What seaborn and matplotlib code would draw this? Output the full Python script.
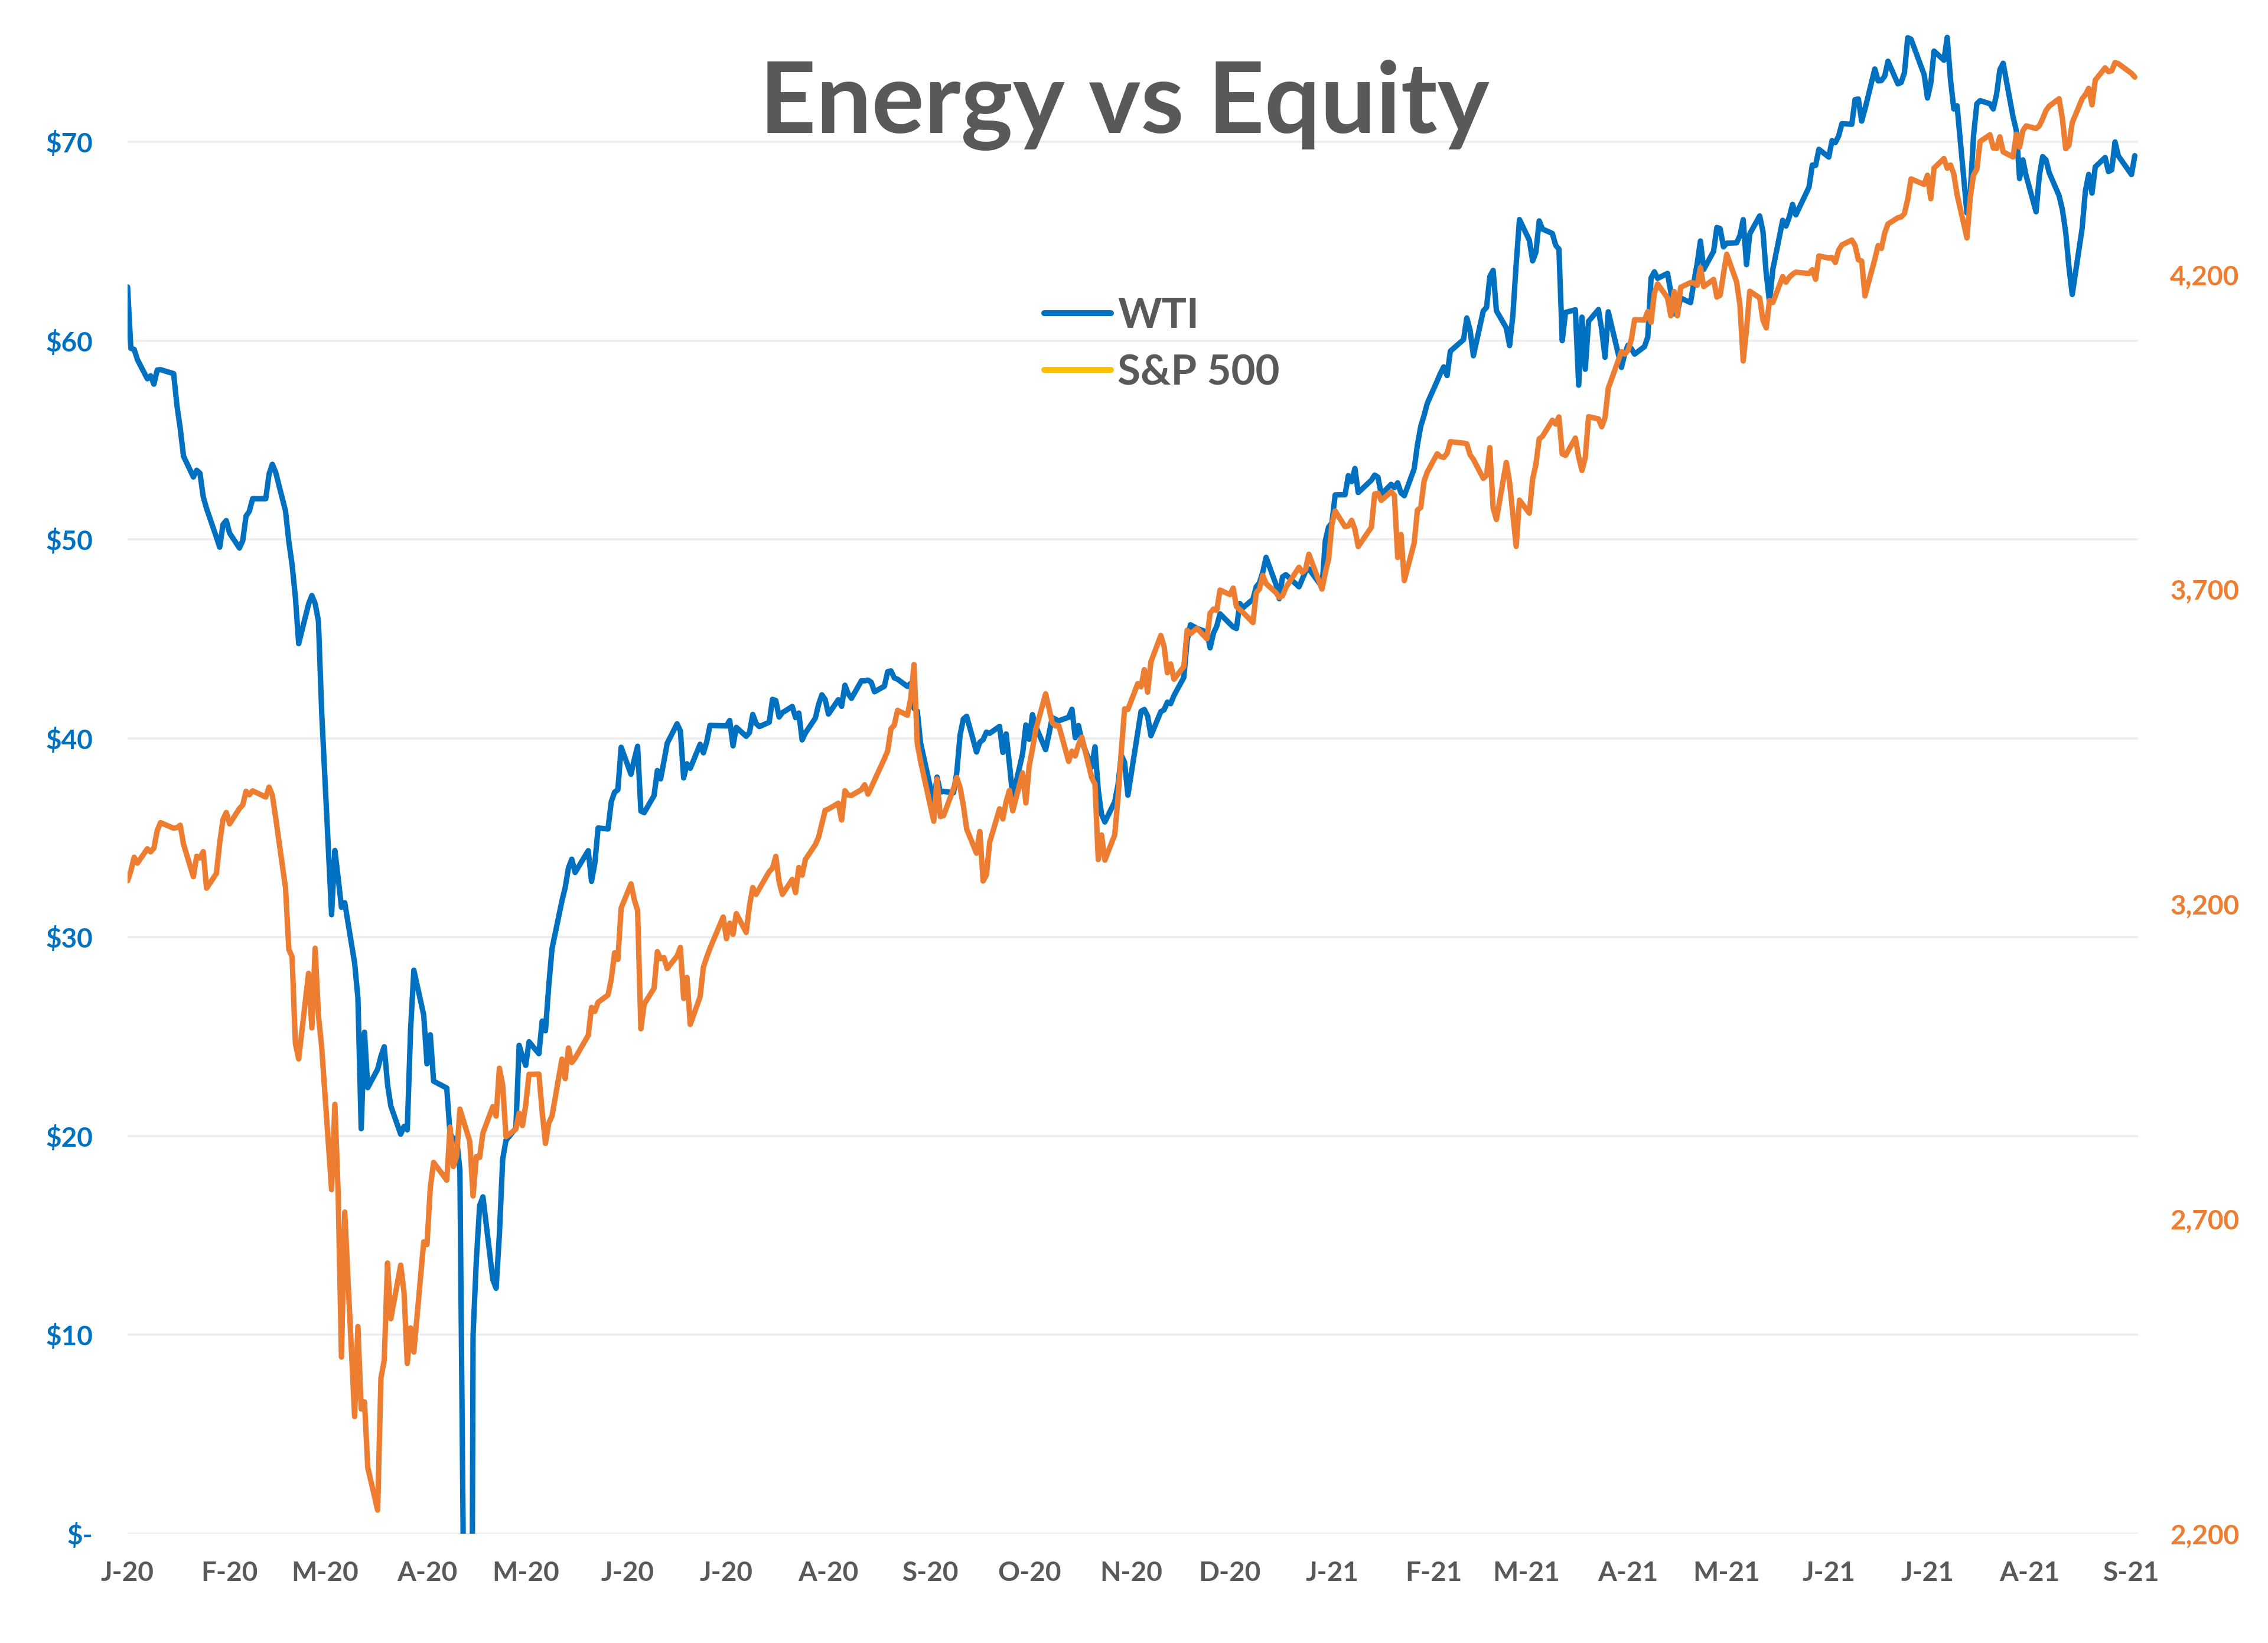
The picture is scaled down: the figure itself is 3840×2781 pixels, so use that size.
import numpy as np
import pandas as pd
import matplotlib
matplotlib.use("Agg")
import matplotlib.pyplot as plt
import matplotlib.dates as mdates
from matplotlib.lines import Line2D
import seaborn as sns

# ---------------- data ----------------
START = "2020-01-07"
END = "2021-09-08"
HOLIDAYS = ["2020-01-20", "2020-02-17", "2020-04-10", "2020-05-25", "2020-07-03",
            "2020-09-07", "2020-11-26", "2020-12-25", "2021-01-01", "2021-01-18",
            "2021-02-15", "2021-04-02", "2021-05-31", "2021-07-05", "2021-09-06"]

wti_2020 = [
    # Jan
    62.70, 59.61, 59.56, 59.04, 58.08, 58.23, 57.81, 58.52, 58.54, 58.34, 56.74, 55.59, 54.19, 53.14, 53.48, 53.33, 52.14, 51.56,
    # Feb
    50.11, 49.61, 50.75, 50.95, 50.32, 49.57, 49.94, 51.17, 51.42, 52.05, 52.05, 53.29, 53.78, 53.38, 51.43, 49.90, 48.73, 47.09, 44.76,
    # Mar
    46.75, 47.18, 46.78, 45.90, 41.28, 31.13, 34.36, 32.98, 31.50, 31.73, 28.70, 26.95, 20.37, 25.22, 22.43, 23.36, 24.01, 24.49, 22.60, 21.51, 20.09, 20.48,
    # Apr
    20.31, 25.32, 28.34, 26.08, 23.63, 25.09, 22.76, 22.41, 20.11, 19.87, 19.87, 18.27, -37.63, 10.01, 13.78, 16.50, 16.94, 12.78, 12.34, 15.06, 18.84,
    # May
    19.78, 20.39, 24.56, 23.99, 23.55, 24.74, 24.14, 25.78, 25.29, 27.56, 29.43, 31.82, 32.50, 33.49, 33.92, 33.25, 34.35, 32.81, 33.71, 35.49,
    # Jun
    35.44, 36.81, 37.29, 37.41, 39.55, 38.19, 38.94, 39.60, 36.34, 36.26, 37.12, 38.38, 37.96, 38.84, 39.75, 40.73, 40.37, 38.01, 38.72, 38.49, 39.70, 39.27,
    # Jul
    39.82, 40.65, 40.63, 40.62, 40.90, 39.62, 40.55, 40.10, 40.29, 41.20, 40.75, 40.59, 40.81, 41.96, 41.90, 41.07, 41.29, 41.60, 41.04, 41.27, 39.92, 40.27,
    # Aug
    41.01, 41.70, 42.19, 41.95, 41.22, 41.94, 41.61, 42.67, 42.24, 42.01, 42.89, 42.89, 42.93, 42.82, 42.34, 42.62, 43.35, 43.39, 43.04, 42.97, 42.61,
    # Sep
    42.76, 41.51, 41.37, 39.77, 36.76, 38.05, 37.30, 37.33, 37.26, 38.28, 40.16, 40.97, 41.11, 39.31, 39.80, 39.93, 40.31, 40.25, 40.60, 39.29, 40.22,
    # Oct
    38.72, 37.05, 39.22, 40.67, 39.95, 41.19, 40.60, 39.43, 40.20, 41.04, 40.96, 40.88, 41.06, 41.46, 40.03, 40.64, 39.85, 38.56, 39.57, 37.39, 36.17, 35.79,
    # Nov
    36.81, 37.66, 39.15, 38.79, 37.14, 40.29, 41.36, 41.45, 41.12, 40.13, 41.34, 41.43, 41.82, 41.74, 42.15, 43.06, 44.91, 45.71, 45.53, 45.34,
    # Dec
    44.55, 45.28, 45.64, 46.26, 45.76, 45.60, 45.52, 46.78, 46.57, 46.99, 47.62, 47.82, 48.36, 49.10, 47.74, 47.02, 48.12, 48.23, 47.62, 48.00, 48.40, 48.52,
]

wti_2021 = [
    # Jan
    47.62, 49.93, 50.63, 50.83, 52.24, 52.25, 53.21, 52.91, 53.57, 52.36, 52.98, 53.24, 53.13, 52.27, 52.77, 52.61, 52.85, 52.34, 52.20,
    # Feb
    53.55, 54.76, 55.69, 56.23, 56.85, 57.97, 58.36, 58.68, 58.24, 59.47, 60.05, 61.14, 60.52, 59.24, 61.49, 61.67, 63.22, 63.53, 61.50,
    # Mar
    60.64, 59.75, 61.28, 63.83, 66.09, 65.05, 64.01, 64.44, 66.02, 65.61, 65.39, 64.80, 64.60, 60.00, 61.42, 61.55, 57.76, 61.18, 58.56, 60.97, 61.56, 60.55, 59.16,
    # Apr
    61.45, 58.65, 59.33, 59.77, 59.60, 59.32, 59.70, 60.18, 63.15, 63.46, 63.13, 63.38, 62.44, 61.35, 61.43, 62.14, 61.91, 62.94, 63.86, 65.01, 63.58,
    # May
    64.49, 65.69, 65.63, 64.71, 64.90, 64.92, 65.28, 66.08, 63.82, 65.37, 66.27, 65.49, 63.36, 61.94, 63.58, 66.05, 65.76, 66.21, 66.85, 66.32,
    # Jun
    67.72, 68.83, 68.81, 69.62, 69.23, 70.05, 69.96, 70.29, 70.91, 70.88, 72.12, 72.15, 71.04, 71.64, 73.66, 73.06, 73.08, 73.30, 74.05, 72.91, 72.98, 73.47,
    # Jul
    75.23, 75.16, 73.37, 72.20, 72.94, 74.56, 74.10, 75.25, 73.13, 71.65, 71.81, 66.42, 67.42, 70.30, 71.91, 72.07, 71.91, 71.65, 72.39, 73.62, 73.95,
    # Aug
    71.26, 70.56, 68.15, 69.09, 68.28, 66.48, 68.29, 69.25, 69.09, 68.44, 67.29, 66.59, 65.46, 63.69, 62.32, 65.64, 67.54, 68.36, 67.42, 68.74, 69.21, 68.50,
    # Sep
    68.59, 69.99, 69.29, 68.35, 69.30,
]

spx_2020 = [
    # Jan
    3237.18, 3253.05, 3274.70, 3265.35, 3288.13, 3283.15, 3289.29, 3316.81, 3329.62, 3320.79, 3321.75, 3325.54, 3295.47, 3243.63, 3276.24, 3273.40, 3283.66, 3225.52,
    # Feb
    3248.92, 3297.59, 3334.69, 3345.78, 3327.71, 3352.09, 3357.75, 3379.45, 3373.94, 3380.16, 3370.29, 3386.15, 3373.23, 3337.75, 3225.89, 3128.21, 3116.39, 2978.76, 2954.22,
    # Mar
    3090.23, 3003.37, 3130.12, 3023.94, 2972.37, 2746.56, 2882.23, 2741.38, 2480.64, 2711.02, 2386.13, 2529.19, 2398.10, 2409.39, 2304.92, 2237.40, 2447.33, 2475.56, 2630.07, 2541.47, 2626.65, 2584.59,
    # Apr
    2470.50, 2526.90, 2488.65, 2663.68, 2659.41, 2749.98, 2789.82, 2761.63, 2846.06, 2783.36, 2799.55, 2874.56, 2823.16, 2736.56, 2799.31, 2797.80, 2836.74, 2878.48, 2863.39, 2939.51, 2912.43,
    # May
    2830.71, 2842.74, 2868.44, 2848.42, 2881.19, 2929.80, 2930.19, 2870.12, 2820.00, 2852.50, 2863.70, 2953.91, 2922.94, 2971.61, 2948.51, 2955.45, 2991.77, 3036.13, 3029.73, 3044.31,
    # Jun
    3055.73, 3080.82, 3122.87, 3112.35, 3193.93, 3232.39, 3207.18, 3190.14, 3002.10, 3041.31, 3066.59, 3124.74, 3113.49, 3115.34, 3097.74, 3117.86, 3131.29, 3050.33, 3083.76, 3009.05, 3053.24, 3100.29,
    # Jul
    3115.86, 3130.01, 3179.72, 3145.32, 3169.94, 3152.05, 3185.04, 3155.22, 3197.52, 3226.56, 3215.57, 3224.73, 3251.84, 3257.30, 3276.02, 3235.66, 3215.63, 3239.41, 3218.44, 3258.44, 3246.22, 3271.12,
    # Aug
    3294.61, 3306.51, 3327.77, 3349.16, 3351.28, 3360.47, 3333.69, 3380.35, 3373.43, 3372.85, 3381.99, 3389.78, 3374.85, 3385.51, 3397.16, 3431.28, 3443.62, 3478.73, 3484.55, 3508.01, 3500.31,
    # Sep
    3526.65, 3580.84, 3455.06, 3426.96, 3331.84, 3398.96, 3339.19, 3340.97, 3383.54, 3401.20, 3385.49, 3357.01, 3319.47, 3281.06, 3315.57, 3236.92, 3246.59, 3298.46, 3351.60, 3335.47, 3363.00,
    # Oct
    3380.80, 3348.42, 3408.60, 3360.97, 3419.44, 3446.83, 3477.14, 3534.22, 3511.93, 3488.67, 3483.34, 3483.81, 3426.92, 3443.12, 3435.56, 3453.49, 3465.39, 3400.97, 3390.68, 3271.03, 3310.11, 3269.96,
    # Nov
    3310.24, 3369.16, 3443.44, 3510.45, 3509.44, 3550.50, 3545.53, 3572.66, 3537.01, 3585.15, 3626.91, 3609.53, 3567.79, 3581.87, 3557.54, 3577.59, 3635.41, 3629.65, 3638.35, 3621.63,
    # Dec
    3662.45, 3669.01, 3666.72, 3699.12, 3691.96, 3702.25, 3672.82, 3668.10, 3663.46, 3647.49, 3694.62, 3701.17, 3722.48, 3709.41, 3694.92, 3687.26, 3690.01, 3703.06, 3735.36, 3727.04, 3732.04, 3756.07,
]

spx_2021 = [
    # Jan
    3700.65, 3726.86, 3748.14, 3803.79, 3824.68, 3799.61, 3801.19, 3809.84, 3795.54, 3768.25, 3798.91, 3851.85, 3853.07, 3841.47, 3855.36, 3849.62, 3750.77, 3787.38, 3714.24,
    # Feb
    3773.86, 3826.31, 3830.17, 3871.74, 3886.83, 3915.59, 3911.23, 3909.88, 3916.38, 3934.83, 3932.59, 3931.33, 3913.97, 3906.71, 3876.50, 3881.37, 3925.43, 3829.34, 3811.15,
    # Mar
    3901.82, 3870.29, 3819.72, 3768.47, 3841.94, 3821.35, 3875.44, 3898.81, 3939.34, 3943.34, 3968.94, 3962.71, 3974.12, 3915.46, 3913.10, 3940.59, 3910.52, 3889.14, 3909.52, 3974.54, 3971.09, 3958.55, 3972.89,
    # Apr
    4019.87, 4077.91, 4073.94, 4079.95, 4097.17, 4128.80, 4127.99, 4141.59, 4124.66, 4170.42, 4185.47, 4163.26, 4134.94, 4173.42, 4134.98, 4180.17, 4187.62, 4186.72, 4183.18, 4211.47, 4181.17,
    # May
    4192.66, 4164.66, 4167.59, 4201.62, 4232.60, 4188.43, 4152.10, 4063.04, 4112.50, 4173.85, 4163.29, 4127.83, 4115.68, 4159.12, 4155.86, 4197.05, 4188.13, 4195.99, 4200.88, 4204.11,
    # Jun
    4202.04, 4208.12, 4192.85, 4229.89, 4226.52, 4227.26, 4219.55, 4239.18, 4247.44, 4255.15, 4246.59, 4223.70, 4221.86, 4166.45, 4224.79, 4246.44, 4241.84, 4266.49, 4280.70, 4290.61, 4291.80, 4297.50,
    # Jul
    4319.94, 4352.34, 4343.54, 4358.13, 4320.82, 4369.55, 4384.63, 4369.21, 4374.30, 4360.03, 4327.16, 4258.49, 4323.06, 4358.69, 4367.48, 4411.79, 4422.30, 4401.46, 4400.64, 4419.15, 4395.26,
    # Aug
    4387.16, 4423.15, 4402.66, 4429.10, 4436.52, 4432.35, 4436.75, 4447.70, 4460.83, 4468.00, 4479.71, 4448.08, 4400.27, 4405.80, 4441.67, 4479.53, 4486.23, 4496.19, 4470.00, 4509.37, 4528.79, 4522.68,
    # Sep
    4524.09, 4536.95, 4535.43, 4520.03, 4514.07,
]

left_ticks = [0, 10, 20, 30, 40, 50, 60, 70]
right_ticks = [2200, 2700, 3200, 3700, 4200]
series_names = ["WTI", "S&P 500"]
title_text = "Energy vs Equity"

# ---------------- build frame ----------------
dates = pd.bdate_range(START, END)
dates = dates[~dates.isin(pd.to_datetime(HOLIDAYS))]
wti = wti_2020 + wti_2021
spx = spx_2020 + spx_2021
assert len(dates) == len(wti) == len(spx), (len(dates), len(wti), len(spx))
df = pd.DataFrame({"Date": dates, "WTI": wti, "S&P 500": spx})

# ---------------- style ----------------
sns.set_style("white")
plt.rcParams["font.family"] = ["Lato", "DejaVu Sans"]

BLUE = "#0070C0"
ORANGE = "#ED7D31"
GOLD = "#FFC000"
GRAY = "#595959"
GRID = "#EEEEEE"

W, H = 3840, 2781
fig = plt.figure(figsize=(12.8, 9.27), dpi=300)
fig.patch.set_facecolor("white")

ax_l, ax_r, ax_b, ax_t = 216, 3620, 2596, 38
ax = fig.add_axes([ax_l / W, 1 - ax_b / H, (ax_r - ax_l) / W, (ax_b - ax_t) / H])
ax2 = ax.twinx()

sns.lineplot(data=df, x="Date", y="WTI", ax=ax, color=BLUE, linewidth=2.2,
             legend=False, solid_joinstyle="round", solid_capstyle="round")
sns.lineplot(data=df, x="Date", y="S&P 500", ax=ax2, color=ORANGE, linewidth=2.2,
             legend=False, solid_joinstyle="round", solid_capstyle="round")

LEFT_MAX = 76.0
RATIO = 31.59  # index points per dollar
ax.set_ylim(0, LEFT_MAX)
ax2.set_ylim(2200, 2200 + LEFT_MAX * RATIO)

x0 = pd.Timestamp("2020-01-07")
x1 = pd.Timestamp("2021-09-09")
ax.set_xlim(mdates.date2num(x0), mdates.date2num(x1))

tick_dates = [x0 + pd.DateOffset(months=i) for i in range(21)]
ax.set_xticks(mdates.date2num(tick_dates))
ax.set_xticklabels(["JFMAMJJASOND"[d.month - 1] + "-" + d.strftime("%y") for d in tick_dates])

ax.set_yticks(left_ticks)
ax.set_yticklabels(["$-" if v == 0 else f"${v}" for v in left_ticks])
ax2.set_yticks(right_ticks)
ax2.set_yticklabels([f"{v:,}" for v in right_ticks])

ax.yaxis.grid(True, color=GRID, linewidth=0.9)
ax.xaxis.grid(False)
ax2.grid(False)
ax.set_axisbelow(True)

for a in (ax, ax2):
    for s in a.spines.values():
        s.set_visible(False)
    a.set_xlabel("")
    a.set_ylabel("")

ax.tick_params(axis="x", length=0, pad=11, labelsize=11, labelcolor=GRAY)
ax.tick_params(axis="y", length=0, pad=14, labelsize=11, labelcolor=BLUE)
ax2.tick_params(axis="y", length=0, pad=13, labelsize=11, labelcolor=ORANGE)
for lab in ax.get_xticklabels() + ax.get_yticklabels() + ax2.get_yticklabels():
    lab.set_fontweight("bold")

fig.text(1904 / W, 1 - 225 / H, title_text, ha="center", va="baseline",
         fontsize=40, fontweight="bold", color=GRAY)

handles = [Line2D([], [], color=BLUE, linewidth=2.4, solid_capstyle="round"),
           Line2D([], [], color=GOLD, linewidth=2.4, solid_capstyle="round")]
fig.legend(handles, series_names, loc="upper left",
           bbox_to_anchor=(1768 / W, 1 - 502 / H), frameon=False,
           prop={"family": "Lato", "weight": "bold", "size": 17},
           labelcolor=GRAY, handlelength=1.6, handletextpad=0.15,
           labelspacing=0.44, borderpad=0, borderaxespad=0)

fig.savefig("out.png", dpi=300, facecolor="white")
